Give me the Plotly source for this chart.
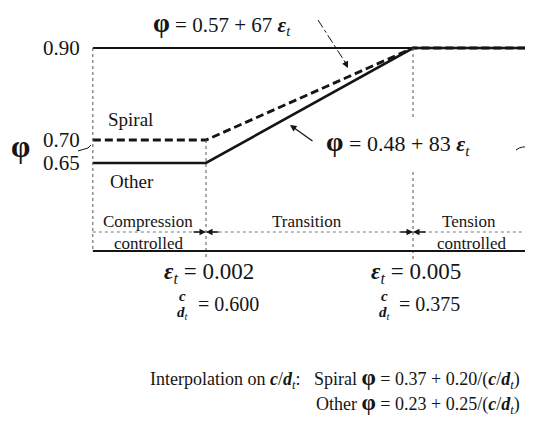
import plotly.graph_objects as go

# the page body has an 8 px margin, so the figure is drawn 8 px in from the window corner
OFF = 8
WIN_W, WIN_H = 533, 429
W, H = WIN_W - OFF, WIN_H - OFF

# axis scales (window pixels per unit)
SX, SY = 69000, 460
X0 = 0.002 - (206 - OFF) / SX
X1 = 0.002 + (WIN_W - 206) / SX
Y1 = 0.90 + (48 - OFF) / SY
Y0 = 0.90 - (WIN_H - 48) / SY

# strain breakpoints and strength reduction factors
strain = [0.00036, 0.002, 0.005, 0.00674]
phi_spiral = [0.70, 0.70, 0.90, 0.90]
phi_other = [0.65, 0.65, 0.90, 0.90]
phi_max = 0.90
eps_left, eps_cc, eps_tc, eps_right = 0.00036, 0.002, 0.005, 0.00667
y_ticks = [0.90, 0.70, 0.65]
y_labels = ["0.90", "0.70", "0.65"]
limit_strain = ["0.002", "0.005"]
limit_cd = ["0.600", "0.375"]

FONT = "Liberation Serif"
INK = "#151515"
EPS = "<b><i>ε</i></b><sub><i>t</i></sub>"
CD = "<b><i>c</i></b>/<b><i>d</i></b><sub><i>t</i></sub>"


def phi(size):
    return f"<span style='font-size:{size}px'><b>φ</b></span>"


def xd(p):
    return X0 + (p - OFF) / W * (X1 - X0)


def yd(p):
    return Y1 - (p - OFF) / H * (Y1 - Y0)


def px(p):
    return (p - OFF) / W


def py(p):
    return 1 - (p - OFF) / H


fig = go.Figure()
fig.add_trace(go.Scatter(x=[eps_left, X1], y=[phi_max, phi_max], mode='lines',
                         line=dict(color=INK, width=1.8), hoverinfo='skip'))
fig.add_trace(go.Scatter(x=strain, y=phi_other, mode='lines', name='Other',
                         line=dict(color=INK, width=2.6)))
fig.add_trace(go.Scatter(x=strain, y=phi_spiral, mode='lines', name='Spiral',
                         line=dict(color=INK, width=2.8, dash='8px,4px')))

shapes = []
dot = dict(color="#555", width=1, dash='dot')
shapes.append(dict(type='line', xref='x', yref='y', x0=eps_left, x1=eps_left,
                   y0=phi_max, y1=yd(251), line=dot))
shapes.append(dict(type='line', xref='x', yref='y', x0=eps_cc, x1=eps_cc,
                   y0=phi_spiral[0], y1=yd(260), line=dot))
shapes.append(dict(type='line', xref='x', yref='y', x0=eps_tc, x1=eps_tc,
                   y0=phi_max, y1=yd(120), line=dot))
shapes.append(dict(type='line', xref='x', yref='y', x0=eps_tc, x1=eps_tc,
                   y0=yd(172), y1=yd(260), line=dot))
shapes.append(dict(type='line', xref='x', yref='y', x0=eps_right, x1=eps_right,
                   y0=phi_max, y1=yd(142), line=dot))
shapes.append(dict(type='line', xref='x', yref='y', x0=eps_right, x1=eps_right,
                   y0=yd(149), y1=yd(260), line=dict(color=INK, width=1.3)))
# band lines
shapes.append(dict(type='line', xref='x', yref='y', x0=eps_left, x1=eps_right,
                   y0=yd(251), y1=yd(251), line=dict(color=INK, width=2)))
shapes.append(dict(type='line', xref='x', yref='y', x0=eps_left, x1=eps_right,
                   y0=yd(232), y1=yd(232), line=dict(color="#777", width=1, dash='dot')))
# axis break marks
shapes.append(dict(type='path', xref='paper', yref='paper',
                   path=f"M {px(78)},{py(151)} L {px(88)},{py(148)} L {px(91)},{py(145)}",
                   line=dict(color=INK, width=1)))
shapes.append(dict(type='path', xref='paper', yref='paper',
                   path=f"M {px(516)},{py(150)} Q {px(522)},{py(145)} {px(531)},{py(148)}",
                   line=dict(color=INK, width=1)))
# leader to dashed line
shapes.append(dict(type='line', xref='paper', yref='paper', x0=px(318), y0=py(20),
                   x1=px(345), y1=py(62), line=dict(color=INK, width=1, dash='dashdot')))

ann = []


def text(x, y, s, size=15, xanchor='center'):
    ann.append(dict(x=px(x), y=py(y), xref='paper', yref='paper', text=s, showarrow=False,
                    xanchor=xanchor, yanchor='middle',
                    font=dict(family=FONT, size=size, color=INK)))


for v, lab in zip(y_ticks, y_labels):
    ann.append(dict(x=px(82), y=v, xref='paper', yref='y', text=lab, showarrow=False,
                    xanchor='right', yanchor='middle',
                    font=dict(family=FONT, size=21, color=INK)))

text(20, 146, phi(31), size=17)
text(130, 119, "Spiral", size=19)
text(132, 181, "Other", size=19)
text(222, 23, f"{phi(27)} = 0.57 + 67 {EPS}", size=21)
text(398, 143, f"{phi(28)} = 0.48 + 83 {EPS}", size=22)

# band labels
text(148, 221, "Compression", size=17)
text(148, 243, "controlled", size=17)
text(307, 221, "Transition", size=17)
text(469, 221, "Tension", size=17)
text(471, 243, "controlled", size=17)

# strain limits and c/d_t
for xc, fx, ex, eps, cd in zip([209, 416], [182, 384], [196, 397], limit_strain, limit_cd):
    text(xc, 273, f"{EPS} = {eps}", size=23)
    text(fx, 296, "<b><i>c</i></b>", size=15)
    text(fx + 1, 313, "<b><i>d</i></b><sub><i>t</i></sub>", size=15)
    text(ex, 304, f"= {cd}", size=20, xanchor='left')

text(522, 378, f"Interpolation on {CD}:   Spiral {phi(23)} = 0.37 + 0.20/({CD})",
     size=18, xanchor='right')
text(522, 403, f"Other {phi(23)} = 0.23 + 0.25/({CD})", size=18, xanchor='right')

# arrows
arrow = dict(showarrow=True, text="", arrowhead=2, arrowsize=1, arrowwidth=1.3,
             arrowcolor=INK, axref='pixel', ayref='pixel')
ann.append(dict(arrow, x=xd(348), y=yd(68), xref='x', yref='y', ax=-4, ay=-8))
ann.append(dict(arrow, x=xd(290), y=yd(125), xref='x', yref='y', ax=24, ay=17))
ann.append(dict(arrow, x=eps_cc, y=yd(232), xref='x', yref='y', ax=-14, ay=0))
ann.append(dict(arrow, x=eps_cc, y=yd(232), xref='x', yref='y', ax=14, ay=0))
ann.append(dict(arrow, x=eps_tc, y=yd(232), xref='x', yref='y', ax=-14, ay=0))
ann.append(dict(arrow, x=eps_tc, y=yd(232), xref='x', yref='y', ax=14, ay=0))

fig.update_layout(
    width=W, height=H,
    margin=dict(l=0, r=0, t=0, b=0),
    paper_bgcolor='white', plot_bgcolor='white',
    showlegend=False,
    xaxis=dict(range=[X0, X1], visible=False, fixedrange=True),
    yaxis=dict(range=[Y0, Y1], visible=False, fixedrange=True),
    shapes=shapes, annotations=ann,
)
fig.write_html("out.html")
